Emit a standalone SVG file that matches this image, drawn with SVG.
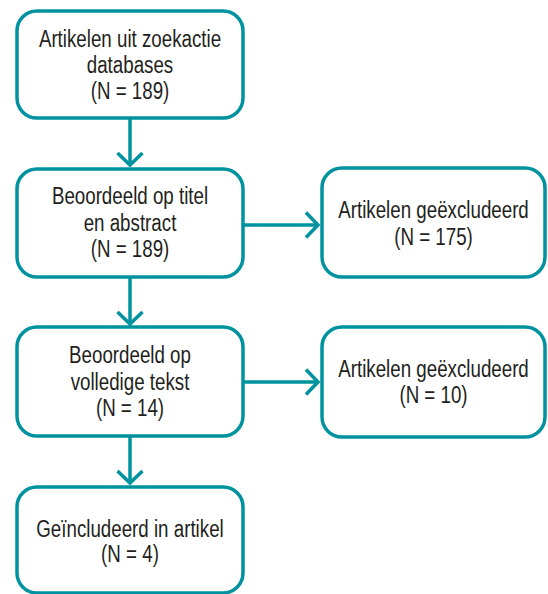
<svg xmlns="http://www.w3.org/2000/svg" width="548" height="594" viewBox="0 0 548 594">
<style>
.box{fill:#ffffff;stroke:#00939f;stroke-width:3.5}
.con{fill:none;stroke:#00939f;stroke-width:3.5}
.t{font-family:"Liberation Sans Narrow","Arial Narrow","Liberation Sans",sans-serif;font-size:23px;fill:#231f20;text-anchor:middle}
</style>
<defs>
<marker id="arr" markerUnits="userSpaceOnUse" markerWidth="30" markerHeight="30" viewBox="-16 -15 20 30" refX="0" refY="0" orient="auto">
<path d="M-12,-12.5 L0,0 L-12,12.5" fill="none" stroke="#00939f" stroke-width="3.5"/>
</marker>
</defs>
<rect width="548" height="594" fill="#ffffff"/>
<g id="connectors">
<line class="con" x1="130" y1="118" x2="130" y2="165" marker-end="url(#arr)"/>
<line class="con" x1="130" y1="277" x2="130" y2="324" marker-end="url(#arr)"/>
<line class="con" x1="130" y1="436" x2="130" y2="483" marker-end="url(#arr)"/>
<line class="con" x1="244" y1="225" x2="318" y2="225" marker-end="url(#arr)"/>
<line class="con" x1="244" y1="382" x2="318" y2="382" marker-end="url(#arr)"/>
</g>
<g id="n1">
<rect class="box" x="17" y="11" width="226" height="107" rx="20"/>
<g transform="translate(130,0) scale(0.815,1)">
<text class="t" x="0" y="47">Artikelen uit zoekactie</text>
<text class="t" x="0" y="73">databases</text>
<text class="t" x="0" y="99">(N = 189)</text>
</g>
</g>
<g id="n2">
<rect class="box" x="17" y="169" width="226" height="108" rx="20"/>
<g transform="translate(130,0) scale(0.815,1)">
<text class="t" x="0" y="204">Beoordeeld op titel</text>
<text class="t" x="0" y="231">en abstract</text>
<text class="t" x="0" y="257">(N = 189)</text>
</g>
</g>
<g id="n3">
<rect class="box" x="322" y="168" width="223" height="109" rx="20"/>
<g transform="translate(433.5,0) scale(0.815,1)">
<text class="t" x="0" y="218">Artikelen geëxcludeerd</text>
<text class="t" x="0" y="245">(N = 175)</text>
</g>
</g>
<g id="n4">
<rect class="box" x="17" y="327" width="226" height="109" rx="20"/>
<g transform="translate(130,0) scale(0.815,1)">
<text class="t" x="0" y="363">Beoordeeld op</text>
<text class="t" x="0" y="390">volledige tekst</text>
<text class="t" x="0" y="416">(N = 14)</text>
</g>
</g>
<g id="n5">
<rect class="box" x="322" y="327" width="223" height="110" rx="20"/>
<g transform="translate(433.5,0) scale(0.815,1)">
<text class="t" x="0" y="377">Artikelen geëxcludeerd</text>
<text class="t" x="0" y="403">(N = 10)</text>
</g>
</g>
<g id="n6">
<rect class="box" x="17" y="487" width="226" height="106" rx="20"/>
<g transform="translate(130,0) scale(0.815,1)">
<text class="t" x="0" y="537">Geïncludeerd in artikel</text>
<text class="t" x="0" y="562">(N = 4)</text>
</g>
</g>
</svg>
